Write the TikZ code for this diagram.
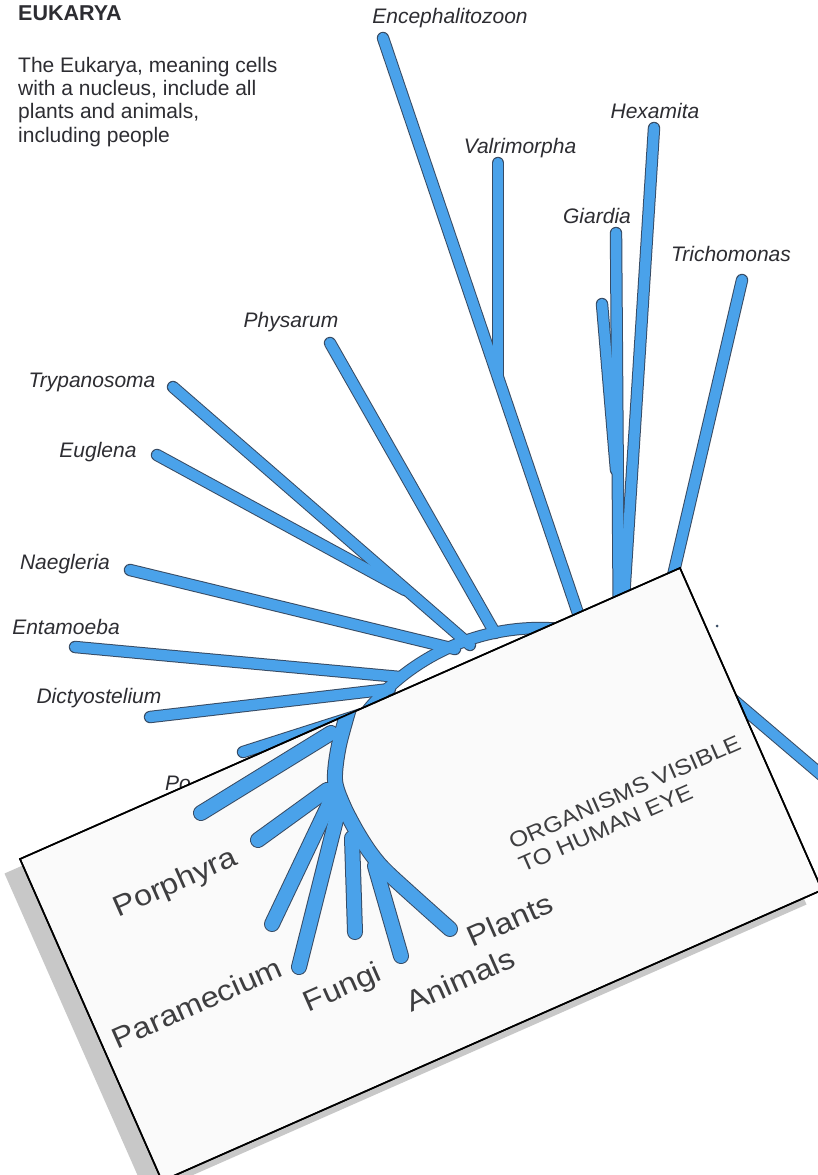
\documentclass[tikz,border=0pt]{standalone}
\usepackage{fontspec}
\setmainfont{Liberation Sans}
\newfontfamily\cardfont[FakeStretch=1.12]{Liberation Sans}
\definecolor{treeblue}{RGB}{74,162,234}
\definecolor{treeline}{RGB}{55,75,100}
\definecolor{ink}{RGB}{45,45,50}
\definecolor{cardink}{RGB}{62,62,64}
\definecolor{shadowgray}{RGB}{200,200,200}
\definecolor{cardfill}{RGB}{250,250,250}
\tikzset{
  lab/.style={font=\fontsize{21}{25}\selectfont\itshape, text=ink, inner sep=0pt},
  para/.style={font=\fontsize{21}{25}\selectfont, text=ink, inner sep=0pt, anchor=base west},
  cardlab/.style={font=\cardfont\fontsize{29}{33}\selectfont, text=cardink, inner sep=0pt, rotate=23.8},
  cardnote/.style={font=\cardfont\fontsize{22}{26}\selectfont, text=cardink, inner sep=0pt, rotate=23.8, anchor=base west},
  branchout/.style={draw=treeline, line width=12.4pt, line cap=round, line join=round},
  branchin/.style={draw=treeblue, line width=10.4pt, line cap=round, line join=round},
  cbranchout/.style={draw=treeline, line width=16pt, line cap=round, line join=round},
  cbranchin/.style={draw=treeblue, line width=14pt, line cap=round, line join=round},
}
\newcommand{\upperpaths}[1]{%
  \draw[#1] plot[domain=212:305, samples=60] ({540+222*cos(\x)},{850+222*sin(\x)});
  \draw[#1] (enc) -- (encE);
  \draw[#1] (val) -- (valE);
  \draw[#1] (hex) -- (hexE);
  \draw[#1] (gia) -- (giaE);
  \draw[#1] (sml) -- (smlE);
  \draw[#1] (tri) -- (triE);
  \draw[#1] (rb1) -- (rb2);
  \draw[#1] (phy) -- (phyE);
  \draw[#1] (try) -- (tryE);
  \draw[#1] (eug) -- (eugE);
  \draw[#1] (nae) -- (naeE);
  \draw[#1] (ent) -- (entE);
  \draw[#1] (dic) -- (dicE);
  \draw[#1] (por) -- (porE);
}
\newcommand{\cardpaths}[1]{%
  \draw[#1] plot[smooth] coordinates {(ct0) (ct1) (ct2) (ct3) (ct4) (ct5) (ct6) (plt)};
  \draw[#1] (bA) -- (tA);
  \draw[#1] (bB) -- (tB);
  \draw[#1] (bC) -- (tC);
  \draw[#1] (bD) -- (tD);
  \draw[#1] (bE) -- (tE);
  \draw[#1] (bF) -- (tF);
}
\begin{document}
\begin{tikzpicture}[x=1pt,y=-1pt]
\useasboundingbox (0,0) rectangle (818,1175);
\clip (0,0) rectangle (818,1175);
\fill[white] (0,0) rectangle (818,1175);

% heading and text
\node[anchor=base west, inner sep=0pt, text=ink, font=\bfseries\fontsize{21.5}{25}\selectfont] (title) at (18,20) {EUKARYA};
\node[para] (p1) at (18,72) {The Eukarya, meaning cells};
\node[para] (p2) at (18,95) {with a nucleus, include all};
\node[para] (p3) at (18,118.5) {plants and animals,};
\node[para] (p4) at (18,142) {including people};

% upper labels
\node[lab] (lEnc) at (450,18) {Encephalitozoon};
\node[lab] (lVal) at (520,148) {Valrimorpha};
\node[lab] (lHex) at (655,111) {Hexamita};
\node[lab] (lGia) at (597,216) {Giardia};
\node[lab] (lTri) at (731,254) {Trichomonas};
\node[lab] (lPhy) at (291,322) {Physarum};
\node[lab] (lTry) at (92,382) {Trypanosoma};
\node[lab] (lEug) at (98,452) {Euglena};
\node[lab] (lNae) at (65,564) {Naegleria};
\node[lab] (lEnt) at (66,627) {Entamoeba};
\node[lab] (lDic) at (99,698) {Dictyostelium};
\node[lab, anchor=base west] (lPo) at (165,790) {Po};

% upper tree coordinates
\coordinate (enc) at (383,38);   \coordinate (encE) at (585,634);
\coordinate (val) at (498,163);  \coordinate (valE) at (498,377);
\coordinate (hex) at (654,128);  \coordinate (hexE) at (621,645);
\coordinate (gia) at (616,233);  \coordinate (giaE) at (619,645);
\coordinate (sml) at (602,304);  \coordinate (smlE) at (616,470);
\coordinate (tri) at (742,280);  \coordinate (triE) at (654,657);
\coordinate (rb1) at (690,663);  \coordinate (rb2) at (845,795);
\coordinate (phy) at (330,343);  \coordinate (phyE) at (495,633);
\coordinate (try) at (173,387);  \coordinate (tryE) at (470,645);
\coordinate (eug) at (157,455);  \coordinate (eugE) at (405,590);
\coordinate (nae) at (130,570);  \coordinate (naeE) at (455,649);
\coordinate (ent) at (75,647);   \coordinate (entE) at (400,677);
\coordinate (dic) at (150,717);  \coordinate (dicE) at (390,689);
\coordinate (por) at (243,752);  \coordinate (porE) at (365,713);

\upperpaths{branchout}
\upperpaths{branchin}

% card
\coordinate (cA) at (20,859);
\coordinate (cB) at (680,568);
\coordinate (cC) at (822,890);
\coordinate (cD) at (162,1181);
\fill[shadowgray] ([shift={(-15.5,14.5)}]cA) -- ([shift={(-15.5,14.5)}]cB) -- ([shift={(-15.5,14.5)}]cC) -- ([shift={(-15.5,14.5)}]cD) -- cycle;
\draw[fill=cardfill, line width=1.6pt] (cA) -- (cB) -- (cC) -- (cD) -- cycle;

% card tree
\coordinate (ct0) at (352,698);
\coordinate (ct1) at (339,745);
\coordinate (ct2) at (335,780);
\coordinate (ct3) at (343,805);
\coordinate (ct4) at (357,832);
\coordinate (ct5) at (372,855);
\coordinate (ct6) at (390,875);
\coordinate (plt) at (450,929);
\coordinate (bA) at (331,733); \coordinate (tA) at (201,813);
\coordinate (bB) at (327,790); \coordinate (tB) at (258,840);
\coordinate (bC) at (331,800); \coordinate (tC) at (272,924);
\coordinate (bD) at (338,812); \coordinate (tD) at (299,967);
\coordinate (bE) at (352,838); \coordinate (tE) at (355,932);
\coordinate (bF) at (375,866); \coordinate (tF) at (401,956);
\begin{scope}
  \clip (cA) -- (cB) -- (cC) -- (cD) -- cycle;
  \cardpaths{cbranchout}
  \cardpaths{cbranchin}
\end{scope}
\draw[line width=1.6pt] (cA) -- (cB) -- (cC) -- (cD) -- cycle;

% card labels
\node[cardlab] (cPor) at (176,884) {Porphyra};
\node[cardlab] (cPar) at (197,1003) {Paramecium};
\node[cardlab] (cFun) at (343,989) {Fungi};
\node[cardlab] (cAni) at (460,980) {Animals};
\node[cardlab] (cPla) at (510,920) {Plants};
\node[cardnote] (cOrg1) at (513,850) {ORGANISMS VISIBLE};
\node[cardnote] (cOrg2) at (523,873) {TO HUMAN EYE};

\node[circle, fill=treeline, inner sep=0pt, minimum size=3pt] (speck) at (717,626) {};
\end{tikzpicture}
\end{document}
